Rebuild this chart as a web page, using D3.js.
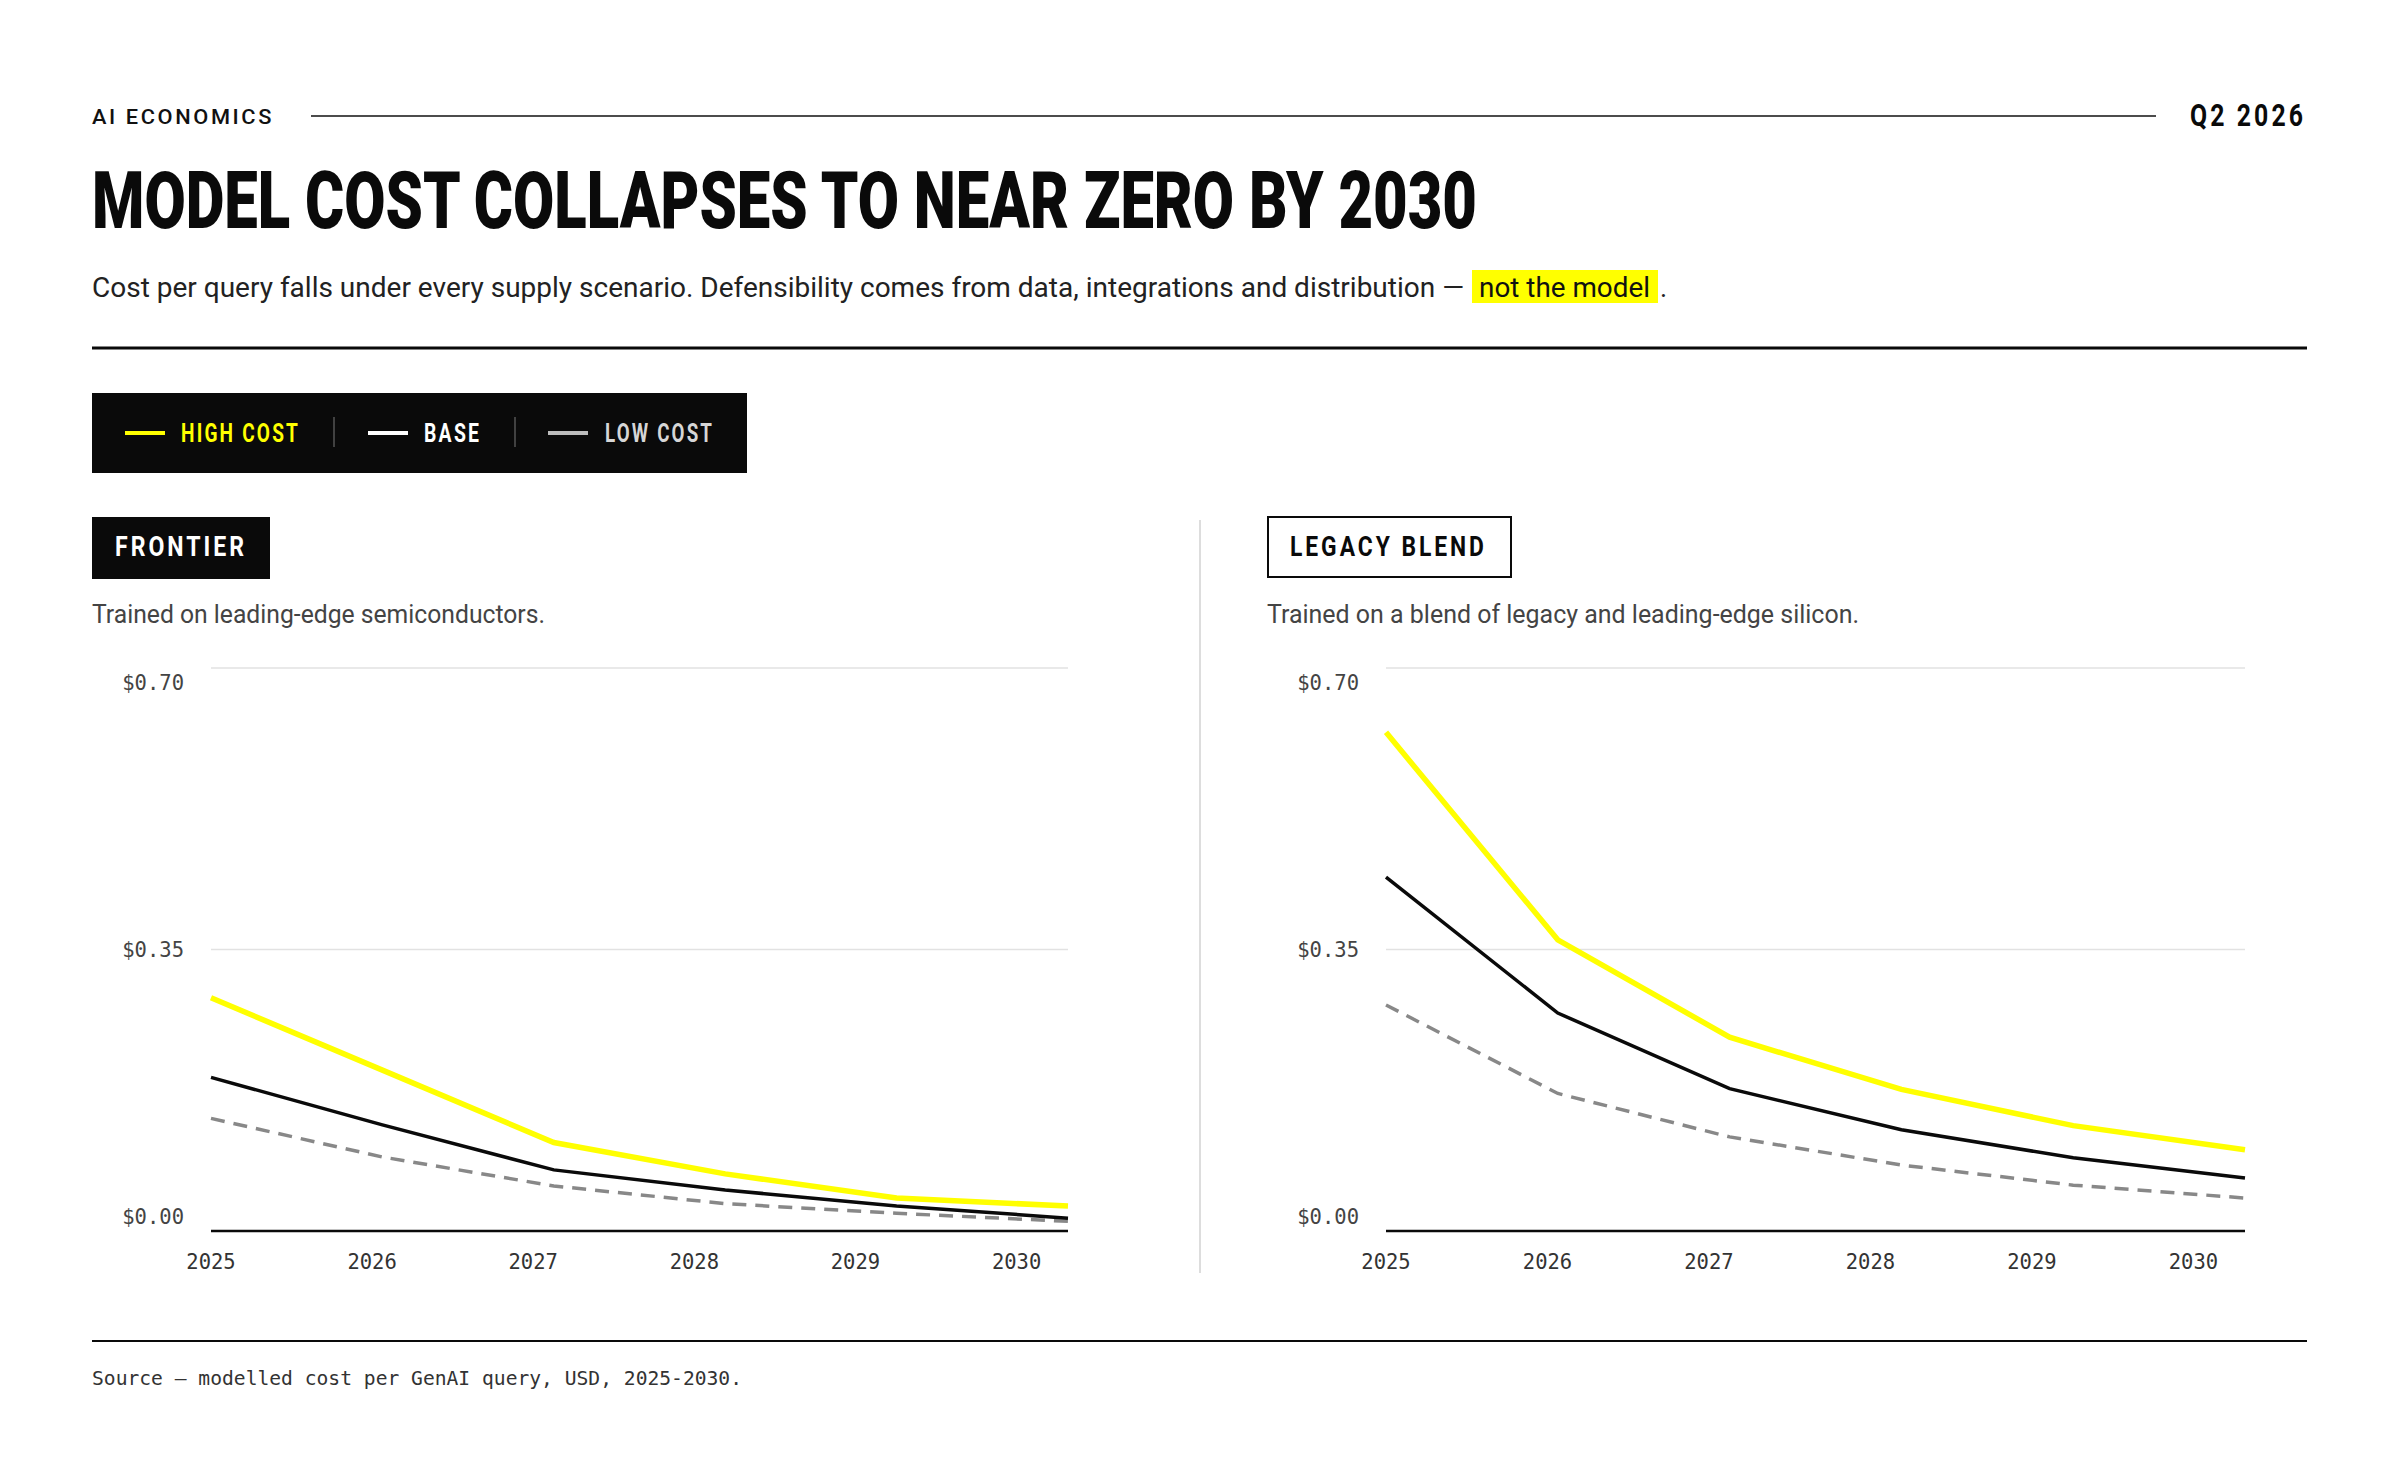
<html>
<head>
<style>
html, body { margin: 0; padding: 0; background: #fff; }
svg { display: block; }
.mono { font-family: "DejaVu Sans Mono", "Liberation Mono", monospace; }
.sans { font-family: Roboto, "Noto Sans", sans-serif; }
</style>
<script src="https://cdnjs.cloudflare.com/ajax/libs/d3/7.8.5/d3.min.js"></script>
</head>
<body>
<svg id="chart" width="2400" height="1484"></svg>
<script>
// values
var years = [2025, 2026, 2027, 2028, 2029, 2030]
var yTicks = [0, 0.35, 0.70]
var frontierHigh = [0.290, 0.200, 0.110, 0.071, 0.041, 0.031]
var frontierBase = [0.191, 0.132, 0.076, 0.051, 0.031, 0.016]
var frontierLow  = [0.140, 0.092, 0.056, 0.034, 0.022, 0.012]
var legacyHigh = [0.620, 0.362, 0.241, 0.176, 0.131, 0.101]
var legacyBase = [0.440, 0.271, 0.177, 0.126, 0.091, 0.066]
var legacyLow  = [0.281, 0.171, 0.117, 0.082, 0.057, 0.041]
var scenarios = ['HIGH COST', 'BASE', 'LOW COST']

var YELLOW = '#ffff00'
var svg = d3.select('#chart')

// condensed + tracked display text: squeeze glyphs horizontally to hit a width
function tracked(parent, txt, x, y, width, size, spacing, fill) {
  var t = parent.append('text').attr('class', 'sans')
    .attr('font-size', size).attr('font-weight', 700).attr('fill', fill)
    .attr('letter-spacing', spacing)
    .text(txt)
  var w = t.node().getComputedTextLength() - spacing
  t.attr('transform', 'translate(' + x + ',' + y + ') scale(' + (width / w) + ',1)')
  return t
}

// ---- header
svg.append('text').attr('class', 'sans')
  .attr('x', 92).attr('y', 124)
  .attr('font-size', 21).attr('font-weight', 500).attr('fill', '#111')
  .attr('letter-spacing', 2.5)
  .attr('textLength', 182).attr('lengthAdjust', 'spacingAndGlyphs')
  .text('AI ECONOMICS')
svg.append('line')
  .attr('x1', 311).attr('x2', 2156).attr('y1', 116).attr('y2', 116)
  .attr('stroke', '#111').attr('stroke-width', 1.5)
tracked(svg, 'Q2 2026', 2190, 126, 113, 32, 4, '#0a0a0a')

svg.append('text').attr('class', 'sans')
  .attr('x', 92).attr('y', 228)
  .attr('font-size', 79).attr('font-weight', 900).attr('fill', '#0a0a0a')
  .attr('textLength', 1385).attr('lengthAdjust', 'spacingAndGlyphs')
  .text('MODEL COST COLLAPSES TO NEAR ZERO BY 2030')

svg.append('text').attr('class', 'sans')
  .attr('x', 92).attr('y', 297)
  .attr('font-size', 27).attr('fill', '#222')
  .attr('textLength', 1372).attr('lengthAdjust', 'spacingAndGlyphs')
  .text('Cost per query falls under every supply scenario. Defensibility comes from data, integrations and distribution \u2014')
svg.append('rect')
  .attr('x', 1472).attr('y', 270).attr('width', 186).attr('height', 33)
  .attr('fill', YELLOW)
svg.append('text').attr('class', 'sans')
  .attr('x', 1479).attr('y', 297)
  .attr('font-size', 27).attr('fill', '#111')
  .attr('textLength', 171).attr('lengthAdjust', 'spacingAndGlyphs')
  .text('not the model')
svg.append('text').attr('class', 'sans')
  .attr('x', 1660).attr('y', 297)
  .attr('font-size', 27).attr('fill', '#222')
  .text('.')

svg.append('line')
  .attr('x1', 92).attr('x2', 2307).attr('y1', 348).attr('y2', 348)
  .attr('stroke', '#0a0a0a').attr('stroke-width', 3)

// ---- legend
var legend = svg.append('g')
legend.append('rect')
  .attr('x', 92).attr('y', 393).attr('width', 655).attr('height', 80)
  .attr('fill', '#0a0a0a')
var legendItems = [
  {label: scenarios[0], color: YELLOW, text: YELLOW, x: 125, tx: 181, tw: 117},
  {label: scenarios[1], color: '#ffffff', text: '#ffffff', x: 368, tx: 424, tw: 55},
  {label: scenarios[2], color: '#bdbdbd', text: '#d6d6d6', x: 548, tx: 605, tw: 107}
]
legendItems.forEach(function(d) {
  legend.append('line')
    .attr('x1', d.x).attr('x2', d.x + 40).attr('y1', 433).attr('y2', 433)
    .attr('stroke', d.color).attr('stroke-width', 4)
  tracked(legend, d.label, d.tx, 442, d.tw, 26, 3, d.text)
})
;[334, 515].forEach(function(x) {
  legend.append('line')
    .attr('x1', x).attr('x2', x).attr('y1', 417).attr('y2', 447)
    .attr('stroke', '#555').attr('stroke-width', 1.5)
})

// divider between panels
svg.append('line')
  .attr('x1', 1200).attr('x2', 1200).attr('y1', 520).attr('y2', 1273)
  .attr('stroke', '#dddddd').attr('stroke-width', 2)

// ---- panels
var panels = [
  {tag: 'FRONTIER', desc: 'Trained on leading-edge semiconductors.',
   left: 92, tagW: 178, tagTextW: 129, descW: 453, filled: true,
   plotX0: 211, plotX1: 1068, high: frontierHigh, base: frontierBase, low: frontierLow},
  {tag: 'LEGACY BLEND', desc: 'Trained on a blend of legacy and leading-edge silicon.',
   left: 1267, tagW: 245, tagTextW: 194, descW: 592, filled: false,
   plotX0: 1386, plotX1: 2245, high: legacyHigh, base: legacyBase, low: legacyLow}
]

var y = d3.scaleLinear().domain([0, 0.70]).range([1231, 668])
// tick labels are laid out on their own, slightly tighter than the plot
var yLabel = d3.scaleLinear().domain([0, 0.70]).range([1217, 683])

panels.forEach(function(p) {
  var g = svg.append('g')

  g.append('rect')
    .attr('x', p.left + (p.filled ? 0 : 1)).attr('y', 517)
    .attr('width', p.tagW - (p.filled ? 0 : 2)).attr('height', p.filled ? 62 : 60)
    .attr('fill', p.filled ? '#0a0a0a' : '#fff')
    .attr('stroke', p.filled ? 'none' : '#0a0a0a').attr('stroke-width', 2)
  tracked(g, p.tag, p.left + 23, 556, p.tagTextW, 27, 3.5, p.filled ? '#fff' : '#0a0a0a')
  g.append('text').attr('class', 'sans')
    .attr('x', p.left).attr('y', 623)
    .attr('font-size', 25).attr('fill', '#444')
    .attr('textLength', p.descW).attr('lengthAdjust', 'spacingAndGlyphs')
    .text(p.desc)

  var x = d3.scalePoint().domain(years).range([p.plotX0, p.plotX1])
  var xLabel = d3.scalePoint().domain(years)
    .range([p.plotX0, p.plotX0 + (p.plotX1 - p.plotX0) * 0.94])

  // grid
  g.selectAll('.grid').data(yTicks.filter(function(t) { return t > 0 }))
    .join('line').attr('class', 'grid')
    .attr('x1', p.plotX0).attr('x2', p.plotX1)
    .attr('y1', function(d) { return y(d) }).attr('y2', function(d) { return y(d) })
    .attr('stroke', '#e2e2e2').attr('stroke-width', 1.5)
  g.append('line')
    .attr('x1', p.plotX0).attr('x2', p.plotX1).attr('y1', y(0)).attr('y2', y(0))
    .attr('stroke', '#0a0a0a').attr('stroke-width', 2.5)

  g.selectAll('.ylab').data(yTicks).join('text')
    .attr('class', 'ylab mono')
    .attr('x', p.plotX0 - 27).attr('y', function(d) { return yLabel(d) })
    .attr('dy', '0.35em').attr('text-anchor', 'end')
    .attr('font-size', 20.5).attr('fill', '#444')
    .text(function(d) { return '$' + d3.format('.2f')(d) })

  g.selectAll('.xlab').data(years).join('text')
    .attr('class', 'xlab mono')
    .attr('x', function(d) { return xLabel(d) }).attr('y', 1269)
    .attr('text-anchor', 'middle')
    .attr('font-size', 20.5).attr('fill', '#333')
    .text(function(d) { return d })

  var line = d3.line()
    .x(function(d, i) { return x(years[i]) })
    .y(function(d) { return y(d) })

  g.append('path').datum(p.low)
    .attr('d', line).attr('fill', 'none')
    .attr('stroke', '#888').attr('stroke-width', 3.5)
    .attr('stroke-dasharray', '14,9')
  g.append('path').datum(p.base)
    .attr('d', line).attr('fill', 'none')
    .attr('stroke', '#0a0a0a').attr('stroke-width', 3.5)
  g.append('path').datum(p.high)
    .attr('d', line).attr('fill', 'none')
    .attr('stroke', YELLOW).attr('stroke-width', 5.5)
})

// ---- footer
svg.append('line')
  .attr('x1', 92).attr('x2', 2307).attr('y1', 1341).attr('y2', 1341)
  .attr('stroke', '#0a0a0a').attr('stroke-width', 2)
svg.append('text').attr('class', 'mono')
  .attr('x', 92).attr('y', 1385)
  .attr('font-size', 19).attr('fill', '#333')
  .attr('textLength', 650).attr('lengthAdjust', 'spacingAndGlyphs')
  .text('Source \u2014 modelled cost per GenAI query, USD, 2025-2030.')
</script>
</body>
</html>
